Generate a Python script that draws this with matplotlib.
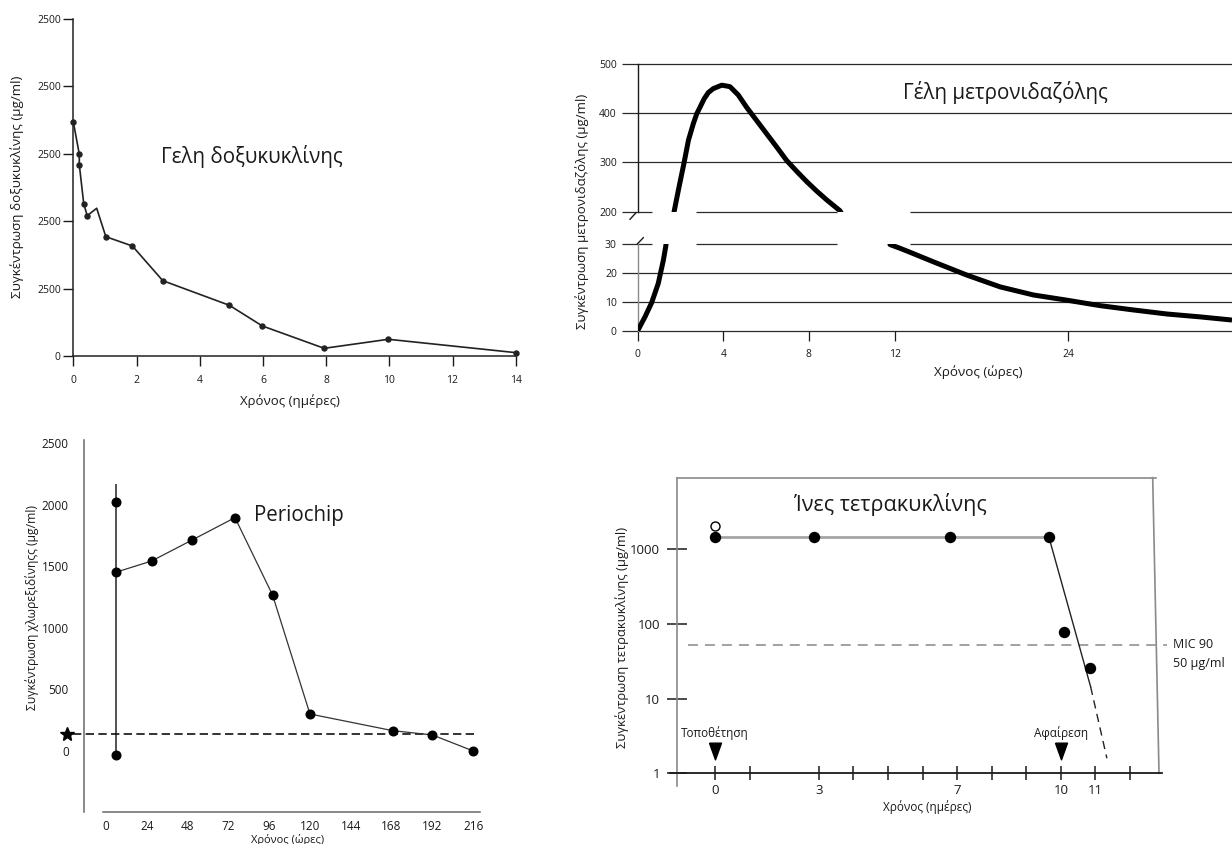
import numpy as np
import matplotlib
matplotlib.use("Agg")
import matplotlib.pyplot as plt
from matplotlib.lines import Line2D

plt.rcParams['font.family'] = ['Open Sans', 'DejaVu Sans']
plt.rcParams['text.color'] = '#1a1a1a'
plt.rcParams['xtick.color'] = '#1a1a1a'
plt.rcParams['ytick.color'] = '#1a1a1a'

# --- Γέλη δοξυκυκλίνης (ημέρες, μg/ml) ---
dox_days = [0, 0.19, 0.19, 0.33, 0.44, 0.74, 1.03, 1.87, 2.83, 4.94, 5.98, 7.94, 9.97, 14.0]
dox_conc = [1738, 1496, 1419, 1130, 1041, 1096, 885, 816, 559, 376, 223, 57, 124, 25]
dox_no_marker = [5]
dox_yticks = [0, 500, 1000, 1500, 2000, 2500]
dox_yticklabels = ['0', '2500', '2500', '2500', '2500', '2500']

# --- Γέλη μετρονιδαζόλης (ώρες, μg/ml) ---
met_hours = [0, 0.34, 0.65, 0.96, 1.2, 1.32, 1.70, 1.93, 2.16, 2.37, 2.60, 2.76, 2.91,
             3.10, 3.30, 3.53, 3.93, 4.31, 4.70, 5.09, 5.56, 6.03, 6.50, 6.96, 7.43,
             7.90, 8.36, 8.83, 9.45, 11.79, 12.39, 13.09, 14.70, 17.01,
             19.32, 21.62, 23.93, 26.23, 28.54, 30.85, 33.15, 35.36]
met_conc = [0, 4.8, 9.7, 16.4, 24.5, 29.7, 200, 250, 298, 345, 379, 399, 412,
            429, 442, 450, 457, 454, 437, 412, 385, 358, 331, 304, 282,
            261, 242, 224, 202, 29.9, 28.6, 27.2, 23.9, 19.3,
            15.2, 12.4, 10.6, 8.7, 7.2, 5.8, 4.8, 3.7]
met_upper_ticks = [200, 300, 400, 500]
met_lower_ticks = [0, 10, 20, 30]
met_xticks = [0, 4, 8, 12, 24]

# --- Periochip (ώρες, μg/ml) ---
chx_hours = [5.7, 26.9, 50.8, 75.9, 98.0, 120.0, 168.6, 192.0, 216.0]
chx_conc = [1450, 1542, 1713, 1894, 1266, 300, 165, 130, 0]
chx_extra_hours = [5.7, 5.7]
chx_extra_conc = [2024, -32]
chx_range = (5.7, -32, 2165)
chx_threshold = 135
chx_yticks = [0, 500, 1000, 1500, 2000, 2500]
chx_xticks = [0, 24, 48, 72, 96, 120, 144, 168, 192, 216]

# --- Ίνες τετρακυκλίνης (ημέρες, μg/ml) ---
tet_days = [0, 2.85, 6.8, 9.65]
tet_conc = [1470, 1470, 1470, 1470]
tet_open_day, tet_open_conc = [0], [2050]
tet_late_days = [10.1, 10.83]
tet_late_conc = [79, 26]
tet_fit_days = [9.65, 10.86]
tet_fit_conc = [1470, 14.4]
tet_extrap_days = [10.86, 11.33]
tet_extrap_conc = [14.4, 1.59]
tet_mic = 52
tet_event_days = [0, 10]
tet_event_labels = ['Τοποθέτηση', 'Αφαίρεση']
tet_major = [0, 3, 7, 10, 11]
tet_minor = [1, 4, 5, 6, 8, 9, 12]

W, H = 1232, 844
fig = plt.figure(figsize=(W / 100, H / 100), dpi=100)


def px_rect(l, t, r, b):
    return [l / W, 1 - b / H, (r - l) / W, (b - t) / H]


def ftext(x, y, s, **kw):
    kw.setdefault('ha', 'center')
    kw.setdefault('va', 'center')
    fig.text(x / W, 1 - y / H, s, **kw)


# ================= Panel 1 =================
ax1 = fig.add_axes(px_rect(73.3, 19, 515.7, 356))
marked = [i for i in range(len(dox_days)) if i not in dox_no_marker]
ax1.plot(dox_days, dox_conc, color='#222222', lw=1.2, marker='o', ms=3.6,
         markevery=marked, clip_on=False, zorder=3)
ax1.set_xlim(0, 14)
ax1.set_ylim(0, 2500)
for s in ['top', 'right']:
    ax1.spines[s].set_visible(False)
for s in ['left', 'bottom']:
    ax1.spines[s].set_linewidth(1.1)
    ax1.spines[s].set_color('#222222')
ax1.set_yticks(dox_yticks)
ax1.set_yticklabels(dox_yticklabels)
ax1.set_xticks(range(0, 15, 2))
ax1.tick_params(axis='y', length=7, width=1, labelsize=7.5, pad=2)
ax1.tick_params(axis='x', length=7.5, width=1, labelsize=7.5, pad=6)
ftext(252, 157, 'Γελη δοξυκυκλίνης', fontsize=14.8)
ftext(290, 401, 'Χρόνος (ημέρες)', fontsize=9.5)
ftext(17, 187, 'Συγκέντρωση δοξυκυκλίνης (μg/ml)', fontsize=9.6, rotation=90)


# ================= Panel 2 =================
def fwd(x):
    x = np.asarray(x, dtype=float)
    return np.where(x <= 12, x, 12 + (x - 12) * 0.675)


def inv(u):
    u = np.asarray(u, dtype=float)
    return np.where(u <= 12, u, 12 + (u - 12) / 0.675)


ax2u = fig.add_axes(px_rect(637.7, 64, 1232, 211.7))
ax2l = fig.add_axes(px_rect(637.7, 244.3, 1232, 330.7))
x_left, x_right = -0.73, 35.36
break_segments = [(-0.73, 0.65), (2.71, 9.30), (13.09, 35.36)]
grid_kw = dict(color='#2a2a2a', lw=0.9, clip_on=False, zorder=1)

for ax, lo, hi, ticks, full, cut in [
        (ax2u, 200, 500, met_upper_ticks, [300, 400, 500], 200),
        (ax2l, 0, 30, met_lower_ticks, [0, 10, 20], 30)]:
    ax.set_xscale('function', functions=(fwd, inv))
    ax.set_xlim(0, x_right)
    ax.set_ylim(lo, hi)
    ax.plot(met_hours, met_conc, color='black', lw=3.6, solid_joinstyle='round',
            solid_capstyle='butt', zorder=3)
    ax.hlines(full, x_left, x_right, **grid_kw)
    for a, b in break_segments:
        ax.hlines(cut, a, b, **grid_kw)
    for s in ['top', 'right', 'bottom']:
        ax.spines[s].set_visible(False)
    ax.set_yticks(ticks)
    ax.tick_params(axis='y', length=0, labelsize=7.5, pad=15)

ax2u.spines['left'].set_color('#1a1a1a')
ax2u.spines['left'].set_linewidth(1.0)
ax2u.tick_params(axis='x', bottom=False, labelbottom=False, which='both')
ax2l.spines['left'].set_color('#8a8a8a')
ax2l.spines['left'].set_linewidth(1.0)
ax2l.set_xticks(met_xticks)
ax2l.xaxis.set_minor_locator(matplotlib.ticker.NullLocator())
ax2l.tick_params(axis='x', length=7, width=0.9, labelsize=7.5, pad=6)

for (x1, y1, x2, y2) in [(630, 219.3, 636, 212.7), (637.3, 244, 643.3, 237.7)]:
    fig.add_artist(Line2D([x1 / W, x2 / W], [1 - y1 / H, 1 - y2 / H],
                          transform=fig.transFigure, color='#1a1a1a', lw=1))

ftext(1005, 93, 'Γέλη μετρονιδαζόλης', fontsize=14.8)
ftext(978, 372, 'Χρόνος (ώρες)', fontsize=9.6)
ftext(582, 211, 'Συγκέντρωση μετρονιδαζόλης (μg/ml)', fontsize=9.5, rotation=90)

# ================= Panel 3 =================
ax3 = fig.add_axes(px_rect(84, 440, 490, 811.7))
ax3.set_xlim(-12.9, 225.9)
ax3.set_ylim(-493, 2524)
ax3.vlines(chx_range[0], chx_range[1], chx_range[2], color='#444444', lw=1.3, zorder=2)
ax3.plot(chx_hours, chx_conc, color='#333333', lw=0.9, marker='o', ms=6.2,
         mfc='black', mec='black', zorder=3, clip_on=False)
ax3.plot(chx_extra_hours, chx_extra_conc, ls='none', marker='o', ms=6.2,
         color='black', zorder=3)
ax3.plot([-0.027, 0.97], [chx_threshold, chx_threshold], transform=ax3.get_yaxis_transform(),
         color='#111111', lw=1.2, dashes=(5, 2.6), clip_on=False, zorder=2)
ax3.plot([-0.043], [chx_threshold], transform=ax3.get_yaxis_transform(), marker='*',
         ms=10, color='black', clip_on=False)
for s in ['top', 'right']:
    ax3.spines[s].set_visible(False)
ax3.spines['left'].set_color('#6a6a6a')
ax3.spines['left'].set_linewidth(1.1)
ax3.spines['bottom'].set_color('#6a6a6a')
ax3.spines['bottom'].set_linewidth(1.1)
ax3.spines['bottom'].set_bounds(-1.6, 220)
ax3.set_yticks(chx_yticks)
ax3.set_xticks(chx_xticks)
ax3.tick_params(axis='y', length=0, labelsize=8.5, pad=11)
ax3.tick_params(axis='x', length=0, labelsize=8.5, pad=6)
ftext(299, 515, 'Periochip', fontsize=14.8)
ftext(288, 840, 'Χρόνος (ώρες)', fontsize=8)
ftext(32, 607, 'Συγκέντρωση χλωρεξιδίνηςς (μg/ml)', fontsize=8.7, rotation=90)

# ================= Panel 4 =================
ax4 = fig.add_axes(px_rect(676.7, 477.7, 1156, 773.3))
ax4.set_yscale('log')
ax4.set_xlim(-1.108, 12.75)
ax4.set_ylim(1, 9060)
ax4.plot(tet_days, tet_conc, color='#a5a5a5', lw=2, zorder=2)
ax4.plot(tet_days, tet_conc, ls='none', marker='o', ms=7.2, color='black', zorder=3)
ax4.plot(tet_open_day, tet_open_conc, ls='none', marker='o', ms=6.5, mfc='white',
         mec='black', mew=1, zorder=3)
ax4.plot(tet_fit_days, tet_fit_conc, color='#222222', lw=1, zorder=2)
ax4.plot(tet_extrap_days, tet_extrap_conc, color='#222222', lw=1, dashes=(6, 4), zorder=2)
ax4.plot(tet_late_days, tet_late_conc, ls='none', marker='o', ms=7.2, color='black', zorder=3)
ax4.hlines(tet_mic, -0.77, 13.06, color='#9a9a9a', lw=1.3, linestyles=(0, (5.5, 3.9)),
           clip_on=False, zorder=1)
tri = [(-0.36, 0.5), (0.36, 0.5), (0, -0.5), (-0.36, 0.5)]
ax4.plot(tet_event_days, [2, 2], ls='none', marker=tri, ms=12, color='black', zorder=3)
for d, lab in zip(tet_event_days, tet_event_labels):
    ax4.text(d, 3.45, lab, ha='center', va='center', fontsize=8.5)

for s in ['left', 'top']:
    ax4.spines[s].set_color('#8a8a8a')
    ax4.spines[s].set_linewidth(1.2)
ax4.spines['right'].set_visible(False)
ax4.spines['left'].set_bounds(0.676, 9060)
ax4.spines['bottom'].set_color('#1a1a1a')
ax4.spines['bottom'].set_linewidth(1.3)
ax4.spines['bottom'].set_bounds(-1.30, 12.93)
ax4.add_line(Line2D([0.9931, 1.0063], [1, 0], transform=ax4.transAxes, color='#8a8a8a',
                    lw=1.2, clip_on=False))
ax4.set_yticks([1, 10, 100, 1000])
ax4.set_yticklabels(['1', '10', '100', '1000'])
ax4.yaxis.set_minor_locator(matplotlib.ticker.NullLocator())
ax4.set_xticks(tet_major)
ax4.set_xticks(tet_minor, minor=True)
ax4.tick_params(axis='y', direction='inout', length=13.7, width=1.1, labelsize=9.5, pad=5)
ax4.tick_params(axis='x', which='both', direction='inout', length=9.6, width=1.1,
                labelsize=9.5, pad=3)
ftext(1173, 645, 'MIC 90', fontsize=9, ha='left')
ftext(1173, 663, '50 μg/ml', fontsize=9, ha='left')
ftext(890, 505, 'Ίνες τετρακυκλίνης', fontsize=15.5)
ftext(927, 807, 'Χρόνος (ημέρες)', fontsize=8.5)
ftext(622, 637, 'Συγκέντρωση τετρακυκλίνης (μg/ml)', fontsize=9.4, rotation=90)

fig.savefig('out.png', dpi=100)
